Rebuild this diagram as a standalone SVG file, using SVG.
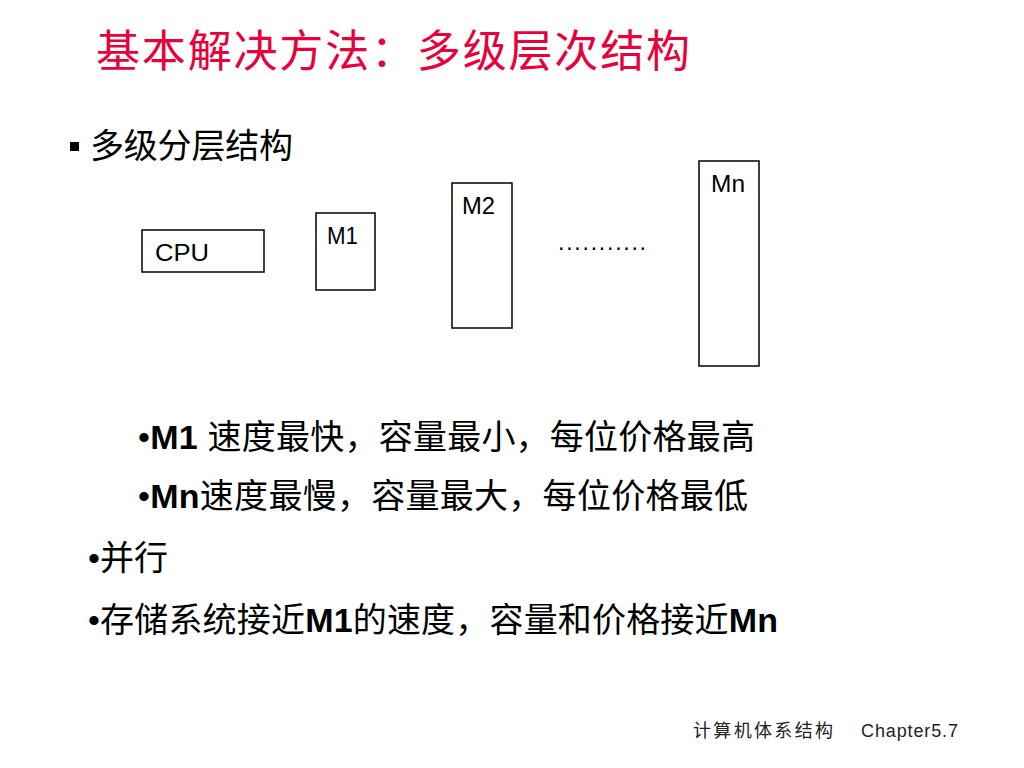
<svg xmlns="http://www.w3.org/2000/svg" width="1024" height="768" viewBox="0 0 1024 768">
<style>
text{font-family:"Liberation Sans","Noto Sans CJK SC",sans-serif;fill:#000}
.title{font-size:44px;fill:#E8003C}
.body{font-size:34px}
.b{font-weight:bold}
.box{fill:#fff;stroke:#000;stroke-width:1.5}
.lbl{font-size:23px}
.foot{font-size:18px;fill:#222}
</style>
<rect width="1024" height="768" fill="#fff"/>
<text class="title" x="96" y="67" textLength="594" lengthAdjust="spacing">基本解决方法：多级层次结构</text>
<rect x="70" y="142" width="9" height="9" fill="#000"/>
<text class="body" x="90" y="158" font-size="33" textLength="203" lengthAdjust="spacing">多级分层结构</text>
<g id="cpu"><rect class="box" x="142" y="230" width="122" height="42"/><text class="lbl" x="155" y="261" textLength="54" lengthAdjust="spacingAndGlyphs">CPU</text></g>
<g id="m1"><rect class="box" x="316" y="213" width="59" height="77"/><text class="lbl" x="327" y="244" textLength="31" lengthAdjust="spacingAndGlyphs">M1</text></g>
<g id="m2"><rect class="box" x="452" y="183" width="60" height="145"/><text class="lbl" x="462" y="214" textLength="33" lengthAdjust="spacingAndGlyphs">M2</text></g>
<g id="mn"><rect class="box" x="699" y="161" width="60" height="205"/><text class="lbl" x="711" y="192" textLength="34" lengthAdjust="spacingAndGlyphs">Mn</text></g>
<text class="lbl" x="558" y="250" textLength="88" lengthAdjust="spacing">...........</text>
<text class="body" x="138" y="449" textLength="617" lengthAdjust="spacing">•<tspan class="b">M1 </tspan>速度最快，容量最小，每位价格最高</text>
<text class="body" x="138" y="508" textLength="610" lengthAdjust="spacing">•<tspan class="b">Mn</tspan>速度最慢，容量最大，每位价格最低</text>
<text class="body" x="88" y="570">•并行</text>
<text class="body" x="88" y="632" textLength="690" lengthAdjust="spacing">•存储系统接近<tspan class="b">M1</tspan>的速度，容量和价格接近<tspan class="b">Mn</tspan></text>
<text class="foot" x="693" y="737" textLength="140" lengthAdjust="spacing">计算机体系结构</text>
<text class="foot" x="861" y="737" textLength="97" lengthAdjust="spacing">Chapter5.7</text>
</svg>
